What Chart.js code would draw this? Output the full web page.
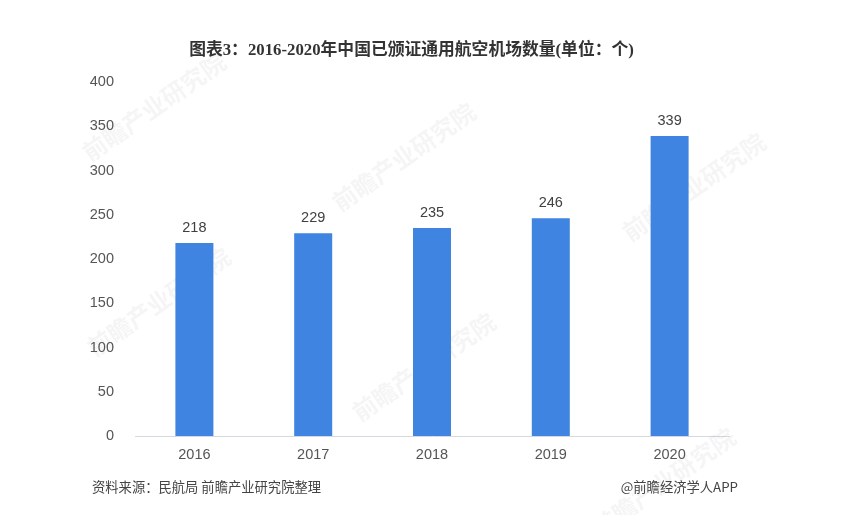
<!DOCTYPE html>
<html>
<head>
<meta charset="utf-8">
<script src="https://cdn.jsdelivr.net/npm/chart.js@4"></script>
<style>
  html, body { margin: 0; padding: 0; background: #fff; }
  #wrap { position: relative; width: 845px; height: 515px; overflow: hidden; }
  #title { position: absolute; left: 0; width: 823px; top: 36px; text-align: center; color: #333;
    font: bold 16.8px "Liberation Serif", "Noto Sans CJK SC", serif; white-space: nowrap; }
  .foot { position: absolute; top: 477px; color: #444; font: 13.3px "Noto Sans CJK SC", sans-serif; white-space: nowrap; }
</style>
</head>
<body>
<div id="wrap">
  <canvas id="chart" width="845" height="515"></canvas>
  <div id="title">图表3：2016-2020年中国已颁证通用航空机场数量(单位：个)</div>
  <div class="foot" style="left:92px">资料来源：民航局 前瞻产业研究院整理</div>
  <div class="foot" style="right:107px">@前瞻经济学人APP</div>
</div>
<script>
const years = ['2016', '2017', '2018', '2019', '2020'];
const airports = [218, 229, 235, 246, 339];
const watermarks = [
  [85, 155], [335, 205], [625, 235], [90, 350], [355, 415], [595, 530]
];

// watermark goes behind the bars, value labels on top
const decorations = {
  id: 'decorations',
  beforeDatasetsDraw(chart) {
    const ctx = chart.ctx;
    ctx.save();
    ctx.fillStyle = 'rgba(120,120,120,0.07)';
    ctx.font = 'bold 24px "Noto Sans CJK SC"';
    ctx.textAlign = 'left';
    ctx.textBaseline = 'middle';
    watermarks.forEach(w => {
      ctx.save();
      ctx.translate(w[0], w[1]);
      ctx.rotate(-35 * Math.PI / 180);
      ctx.fillText('前瞻产业研究院', 0, 0);
      ctx.restore();
    });
    ctx.restore();
  },
  afterDatasetsDraw(chart) {
    const ctx = chart.ctx;
    ctx.save();
    ctx.fillStyle = '#404040';
    ctx.font = '14.5px "Liberation Sans"';
    ctx.textAlign = 'center';
    ctx.textBaseline = 'bottom';
    chart.getDatasetMeta(0).data.forEach((bar, i) => {
      ctx.fillText(airports[i], bar.x, bar.y - 8);
    });
    ctx.restore();
  }
};

new Chart(document.getElementById('chart').getContext('2d'), {
  type: 'bar',
  data: {
    labels: years,
    datasets: [{
      data: airports,
      backgroundColor: '#3f84e0',
      categoryPercentage: 1,
      barPercentage: 0.32
    }]
  },
  options: {
    responsive: false,
    animation: false,
    layout: { padding: { top: 82, right: 116, left: 0, bottom: 0 } },
    plugins: { legend: { display: false }, title: { display: false }, tooltip: { enabled: false } },
    scales: {
      x: {
        grid: { display: false, drawTicks: false },
        border: { color: '#d5dae0', width: 1 },
        ticks: { color: '#555', font: { size: 14.5, family: 'Liberation Sans' }, padding: 10 },
        afterFit(scale) { scale.height = 79; }
      },
      y: {
        min: 0,
        max: 400,
        grid: { display: false, drawTicks: false },
        border: { display: false },
        ticks: { stepSize: 50, color: '#555', font: { size: 14.5, family: 'Liberation Sans' }, padding: 21 },
        afterFit(scale) { scale.width = 135; }
      }
    }
  },
  plugins: [decorations]
});
</script>
</body>
</html>
